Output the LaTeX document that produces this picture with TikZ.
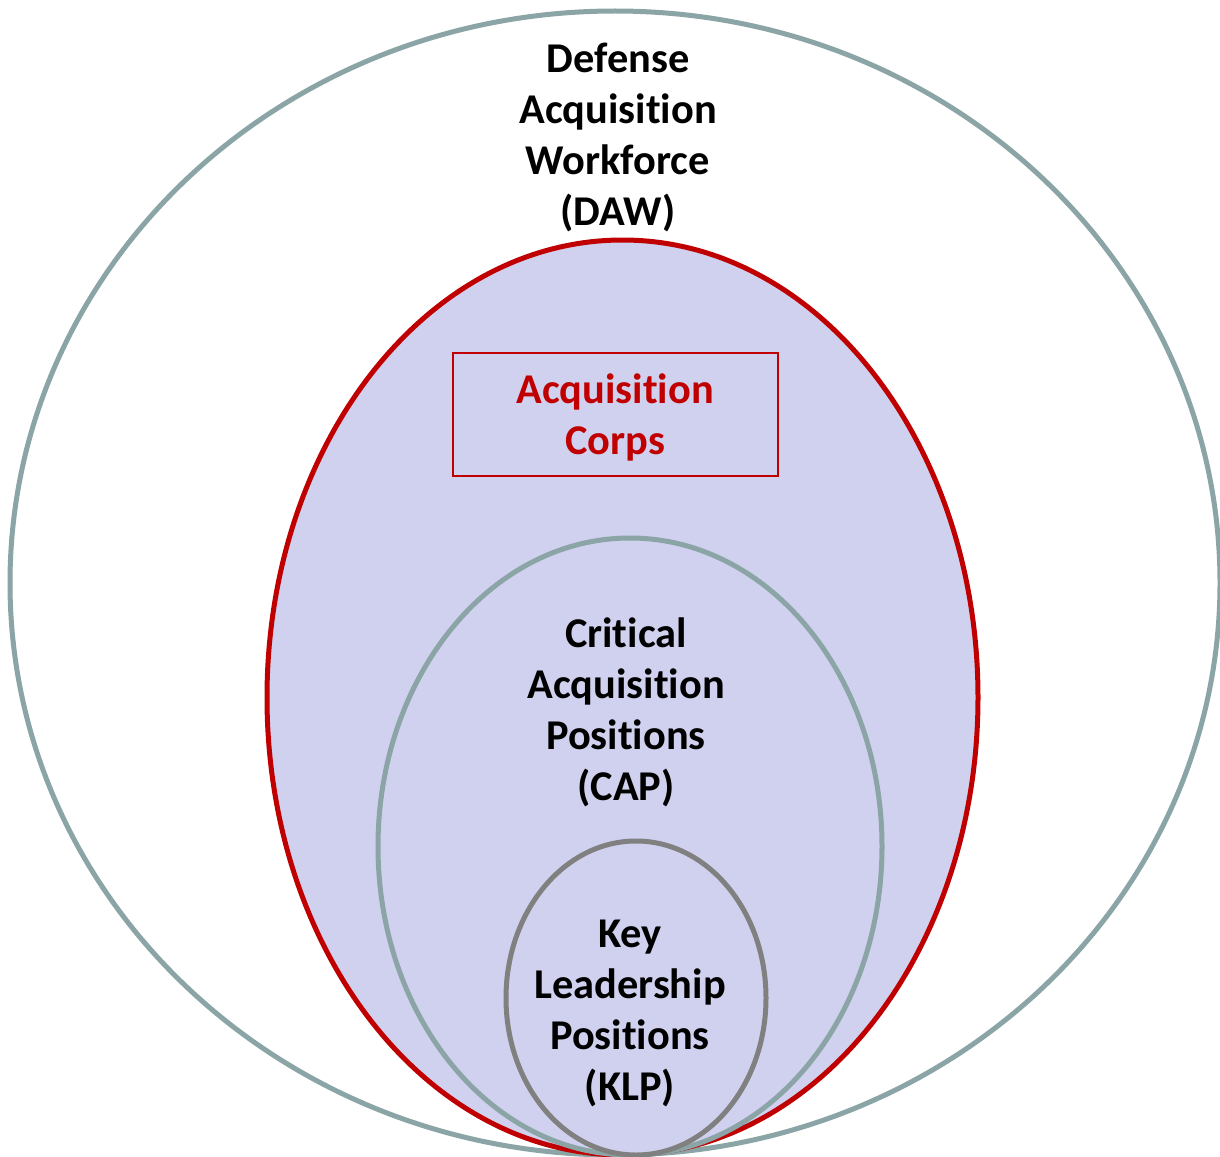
\documentclass[tikz,border=0pt]{standalone}
\usepackage{fontspec}
\setmainfont{Carlito}[Ligatures=NoCommon]
\begin{document}
\definecolor{ringgrey}{HTML}{8BA5A6}
\definecolor{corpsred}{HTML}{C00000}
\definecolor{klpgrey}{HTML}{808080}
\definecolor{lavender}{HTML}{D0D1EE}
\begin{tikzpicture}[x=0.5pt,y=-0.5pt,
  ring/.style={line width=2.5pt},
  lbl/.style={inner sep=0pt,anchor=base,font=\fontsize{21.2}{25.5}\selectfont\bfseries},
  corpsbox/.style={draw=corpsred,line width=1pt,inner sep=0pt,
    minimum width=162.5pt,minimum height=61.5pt}]
  \useasboundingbox (0,0) rectangle (1220,1156);
  \clip (0,0) rectangle (1220,1156);
  % nested rings, outermost first
  \draw[ring,draw=ringgrey,fill=white] (615,583) ellipse [x radius=605,y radius=572];
  \draw[ring,draw=corpsred,fill=lavender] (622.5,697.5) ellipse [x radius=355.5,y radius=457.5];
  \draw[ring,draw=ringgrey,fill=lavender] (630,846.5) ellipse [x radius=252,y radius=308.5];
  \draw[ring,draw=klpgrey,fill=lavender] (636,998) ellipse [x radius=130,y radius=157];
  % framed Acquisition Corps block
  \node[corpsbox] (corps) at (615.5,414.5) {};
  % labels
  \node[lbl] (daw) at (618,73) {\begin{tabular}[t]{@{}c@{}}Defense\\Acquisition\\Workforce\\(DAW)\end{tabular}};
  \node[lbl,text=corpsred] (corpslbl) at (615,403) {\begin{tabular}[t]{@{}c@{}}Acquisition\\Corps\end{tabular}};
  \node[lbl] (cap) at (626,647) {\begin{tabular}[t]{@{}c@{}}Critical\\Acquisition\\Positions\\(CAP)\end{tabular}};
  \node[lbl] (klp) at (630,947) {\begin{tabular}[t]{@{}c@{}}Key\\Leadership\\Positions\\(KLP)\end{tabular}};
\end{tikzpicture}
\end{document}
